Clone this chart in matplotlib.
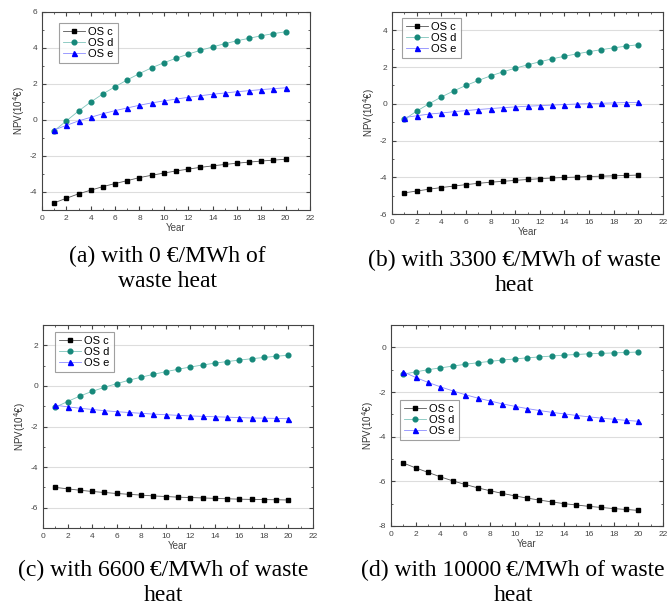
import numpy as np
import matplotlib
matplotlib.use('Agg')
import matplotlib.pyplot as plt
from matplotlib.ticker import MultipleLocator

plt.rcParams['font.family'] = ['Liberation Sans', 'DejaVu Sans']
plt.rcParams['axes.unicode_minus'] = False

years = np.arange(1, 21)

# (a) 0 EUR/MWh
a_c = [-4.6, -4.35, -4.1, -3.9, -3.7, -3.53, -3.37, -3.2, -3.07, -2.95,
       -2.83, -2.73, -2.63, -2.55, -2.47, -2.4, -2.34, -2.28, -2.23, -2.18]
a_d = [-0.6, -0.05, 0.5, 1.0, 1.45, 1.85, 2.23, 2.58, 2.9, 3.18,
       3.43, 3.66, 3.87, 4.06, 4.24, 4.4, 4.54, 4.68, 4.8, 4.9]
a_e = [-0.55, -0.3, -0.05, 0.15, 0.35, 0.52, 0.67, 0.82, 0.95, 1.06,
       1.16, 1.26, 1.35, 1.43, 1.5, 1.57, 1.63, 1.69, 1.74, 1.79]

# (b) 3300 EUR/MWh
b_c = [-4.85, -4.75, -4.65, -4.56, -4.48, -4.4, -4.33, -4.27, -4.22, -4.17,
       -4.12, -4.08, -4.04, -4.01, -3.99, -3.96, -3.94, -3.92, -3.9, -3.88]
b_d = [-0.85, -0.4, 0.0, 0.37, 0.7, 1.0, 1.27, 1.52, 1.74, 1.94,
       2.12, 2.29, 2.45, 2.59, 2.72, 2.84, 2.95, 3.05, 3.14, 3.22]
b_e = [-0.75, -0.65, -0.56, -0.5, -0.43, -0.37, -0.31, -0.26, -0.21, -0.17,
       -0.13, -0.1, -0.07, -0.04, -0.01, 0.01, 0.03, 0.05, 0.07, 0.08]

# (c) 6600 EUR/MWh
c_c = [-5.0, -5.07, -5.14, -5.2, -5.25, -5.3, -5.34, -5.38, -5.42, -5.45,
       -5.48, -5.5, -5.52, -5.54, -5.56, -5.58, -5.59, -5.6, -5.61, -5.62]
c_d = [-1.05, -0.77, -0.5, -0.27, -0.07, 0.11, 0.28, 0.43, 0.57, 0.7,
       0.82, 0.93, 1.03, 1.12, 1.2, 1.27, 1.34, 1.4, 1.46, 1.51]
c_e = [-0.95, -1.03, -1.1, -1.16, -1.22, -1.27, -1.31, -1.35, -1.39, -1.42,
       -1.45, -1.48, -1.5, -1.52, -1.54, -1.56, -1.58, -1.59, -1.6, -1.62]

# (d) 10000 EUR/MWh
d_c = [-5.18, -5.4, -5.6, -5.8, -5.98, -6.14, -6.29, -6.42, -6.54, -6.65,
       -6.75, -6.84, -6.92, -7.0, -7.06, -7.12, -7.17, -7.22, -7.26, -7.3]
d_d = [-1.2, -1.1, -1.0, -0.92, -0.84, -0.76, -0.69, -0.63, -0.57, -0.52,
       -0.47, -0.43, -0.39, -0.35, -0.32, -0.29, -0.27, -0.25, -0.23, -0.21]
d_e = [-1.1, -1.35, -1.57, -1.77, -1.95, -2.12, -2.27, -2.4, -2.53, -2.64,
       -2.74, -2.83, -2.91, -2.98, -3.05, -3.11, -3.17, -3.22, -3.27, -3.31]

captions = ['(a) with 0 \u20ac/MWh of\nwaste heat',
            '(b) with 3300 \u20ac/MWh of waste\nheat',
            '(c) with 6600\u2009\u20ac/MWh of waste\nheat',
            '(d) with 10000\u2009\u20ac/MWh of waste\nheat']

W, H = 669, 611
fig = plt.figure(figsize=(W / 100, H / 100), dpi=100)

# pixel boxes: left, top, right, bottom
boxes = [(42, 12, 310, 210), (392, 12, 663, 214),
         (43, 325, 313, 528), (391, 325, 663, 526)]
ylims = [(-5, 6), (-6, 5), (-7, 3), (-8, 1)]
leg_pos = [(0.063, 0.944), (0.037, 0.97), (0.044, 0.966), (0.033, 0.627)]
cap_xy = [(167, 246), (514, 250), (163, 560), (513, 560)]
data = [(a_c, a_d, a_e), (b_c, b_d, b_e), (c_c, c_d, c_e), (d_c, d_d, d_e)]

for i in range(4):
    l, t, r, b = boxes[i]
    ax = fig.add_axes([l / W, 1 - b / H, (r - l) / W, (b - t) / H])
    sc, sd, se = data[i]
    ax.plot(years, sc, color='#555555', lw=0.6, marker='s', ms=3,
            mfc='black', mec='black', label='OS c')
    ax.plot(years, sd, color='#7fc4bb', lw=0.6, marker='o', ms=3.4,
            mfc='#16887a', mec='#16887a', label='OS d')
    ax.plot(years, se, color='#8c8cff', lw=0.6, marker='^', ms=3.6,
            mfc='#0000ff', mec='#0000ff', label='OS e')
    ax.set_xlim(0, 22)
    ax.set_ylim(*ylims[i])
    ax.xaxis.set_major_locator(MultipleLocator(2))
    ax.xaxis.set_minor_locator(MultipleLocator(1))
    ax.yaxis.set_major_locator(MultipleLocator(2))
    ax.yaxis.set_minor_locator(MultipleLocator(1))
    ax.grid(axis='y', which='major', color='#dddddd', lw=0.8)
    ax.set_axisbelow(True)
    ax.tick_params(which='both', direction='in', labelsize=6,
                   labelcolor='#444444', color='#444444', top=True, right=True)
    ax.tick_params(which='major', length=3)
    ax.tick_params(which='minor', length=1.5)
    for s in ax.spines.values():
        s.set_color('#444444')
        s.set_linewidth(0.8)
    ax.set_xlabel('Year', fontsize=7, color='#444444', labelpad=1)
    ax.set_ylabel('NPV(10$^4$\u20ac)', fontsize=7, color='#333333', labelpad=2)
    leg = ax.legend(loc='upper left', bbox_to_anchor=leg_pos[i], fontsize=8,
                    borderaxespad=0, fancybox=False, handlelength=2.0,
                    handletextpad=0.3, labelspacing=0.1, borderpad=0.35)
    leg.get_frame().set_edgecolor('#888888')
    leg.get_frame().set_linewidth(0.8)
    cx, cy = cap_xy[i]
    fig.text(cx / W, 1 - cy / H, captions[i], ha='center', va='top',
             fontsize=17, family=['Liberation Serif', 'DejaVu Serif'],
             linespacing=1.25)

fig.savefig('out.png', dpi=100, facecolor='white')
